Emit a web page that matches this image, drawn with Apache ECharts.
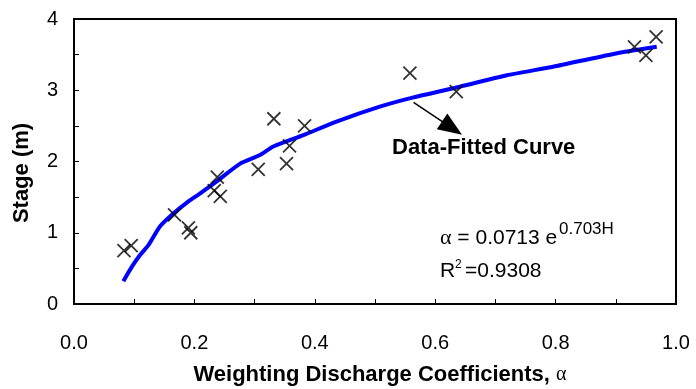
<!DOCTYPE html>
<html>
<head>
<meta charset="utf-8">
<script src="https://cdn.jsdelivr.net/npm/echarts@6/dist/echarts.min.js"></script>
<style>
  html, body { margin: 0; padding: 0; background: #fff; }
  #main { width: 696px; height: 389px; }
</style>
</head>
<body>
<div id="main"></div>
<script>
// observed points (weighting coefficient vs stage)
var obsAlpha = [0.083, 0.095, 0.167, 0.190, 0.194, 0.233, 0.238, 0.243, 0.306,
                0.332, 0.353, 0.358, 0.383, 0.558, 0.635, 0.931, 0.950, 0.967];
var obsStage = [0.75, 0.82, 1.25, 1.07, 1.00, 1.59, 1.78, 1.51, 1.89,
                2.60, 1.97, 2.22, 2.50, 3.24, 2.98, 3.61, 3.49, 3.75];

// fitted curve
var fitAlpha = [0.082, 0.096, 0.110, 0.124, 0.143, 0.165, 0.187, 0.209, 0.240, 0.276,
                0.309, 0.331, 0.381, 0.436, 0.508, 0.564, 0.641, 0.719, 0.796, 0.896, 0.968];
var fitStage = [0.32, 0.52, 0.69, 0.83, 1.09, 1.27, 1.42, 1.55, 1.74, 1.97,
                2.09, 2.21, 2.37, 2.56, 2.77, 2.90, 3.05, 3.21, 3.33, 3.51, 3.61];

// arrow pointing at the curve
var arrowFrom = [0.564, 2.83];
var arrowTo = [0.628, 2.47];

var font = 'Liberation Sans, Arial, sans-serif';

var chart = echarts.init(document.getElementById('main'), null, { renderer: 'canvas' });

var option = {
    animation: false,
    backgroundColor: '#fff',
    grid: {
        left: 74, right: 20, top: 19, bottom: 85,
        outerBoundsMode: 'none',
        show: true, borderColor: '#000', borderWidth: 2
    },
    xAxis: {
        type: 'value',
        min: 0, max: 1, interval: 0.2,
        axisLine: { lineStyle: { color: '#000', width: 2 } },
        axisTick: { inside: true, length: 5, lineStyle: { color: '#000', width: 1 } },
        minorTick: { show: true, splitNumber: 2, length: 5, lineStyle: { color: '#000', width: 1 } },
        splitLine: { show: false },
        axisLabel: {
            margin: 29, color: '#000', fontSize: 20, fontFamily: font,
            formatter: function (v) { return v.toFixed(1); }
        },
        name: 'Weighting Discharge Coefficients, {g|α}',
        nameLocation: 'middle',
        nameGap: 60,
        nameTextStyle: {
            color: '#000', fontSize: 22, fontWeight: 'bold', fontFamily: font,
            padding: [0, 0, 0, 10],
            rich: { g: { fontSize: 20, fontWeight: 'normal', fontFamily: 'Liberation Serif, serif', color: '#000' } }
        }
    },
    yAxis: {
        type: 'value',
        min: 0, max: 4, interval: 1,
        axisLine: { show: true, lineStyle: { color: '#000', width: 2 } },
        axisTick: { show: true, inside: true, length: 5, lineStyle: { color: '#000', width: 1 } },
        minorTick: { show: true, splitNumber: 2, length: 5, lineStyle: { color: '#000', width: 1 } },
        splitLine: { show: false },
        axisLabel: { margin: 16, color: '#000', fontSize: 20, fontFamily: font }
    },
    graphic: [
        {
            type: 'text', x: 22, y: 173, rotation: Math.PI / 2,
            style: { text: 'Stage (m)', fill: '#000', font: 'bold 22px ' + font,
                     align: 'center', verticalAlign: 'middle' }
        },
        {
            type: 'text', x: 392, y: 148,
            style: { text: 'Data-Fitted Curve', fill: '#000', font: 'bold 22px ' + font,
                     align: 'left', verticalAlign: 'middle' }
        },
        {
            type: 'text', x: 440, y: 238,
            style: {
                text: '{g|α} = 0.0713 e', fill: '#000', font: '21px ' + font,
                align: 'left', verticalAlign: 'middle',
                rich: { g: { fontSize: 22, fontFamily: 'Liberation Serif, serif' } }
            }
        },
        {
            type: 'text', x: 559, y: 229,
            style: { text: '0.703H', fill: '#000', font: '17px ' + font,
                     align: 'left', verticalAlign: 'middle' }
        },
        {
            type: 'text', x: 440, y: 271,
            style: { text: 'R', fill: '#000', font: '21px ' + font,
                     align: 'left', verticalAlign: 'middle' }
        },
        {
            type: 'text', x: 455, y: 265,
            style: { text: '2', fill: '#000', font: '12px ' + font,
                     align: 'left', verticalAlign: 'middle' }
        },
        {
            type: 'text', x: 465, y: 271,
            style: { text: '=0.9308', fill: '#000', font: '21px ' + font,
                     align: 'left', verticalAlign: 'middle' }
        }
    ],
    series: [
        {
            name: 'Fitted',
            type: 'line',
            data: fitAlpha.map(function (a, i) { return [a, fitStage[i]]; }),
            showSymbol: false,
            smooth: 0.2,
            lineStyle: { color: '#0000FF', width: 4 },
            z: 2,
            markLine: {
                silent: true,
                animation: false,
                label: { show: false },
                lineStyle: { color: '#000', width: 1.5, type: 'solid' },
                data: [[
                    { coord: arrowFrom, symbol: 'none' },
                    { coord: arrowTo, symbol: 'triangle', symbolSize: [19, 24] }
                ]]
            }
        },
        {
            name: 'Observed',
            type: 'scatter',
            data: obsAlpha.map(function (a, i) { return [a, obsStage[i]]; }),
            symbol: 'path://M0,0L10,10M0,10L10,0',
            symbolSize: 13,
            itemStyle: { color: 'none', borderColor: '#000', borderWidth: 1.8 },
            z: 3
        }
    ]
};

chart.setOption(option);
</script>
</body>
</html>
